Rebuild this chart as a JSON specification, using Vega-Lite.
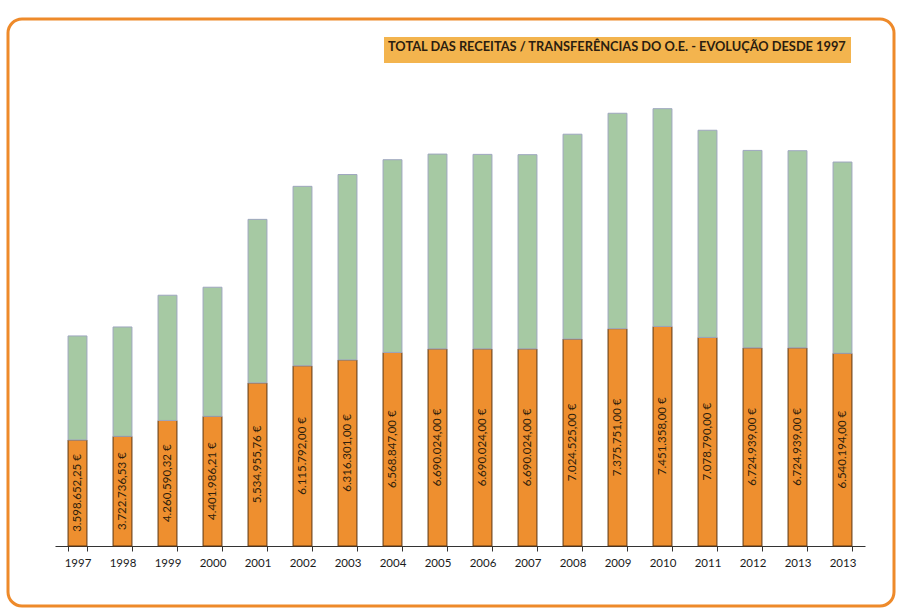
{
  "$schema": "https://vega.github.io/schema/vega-lite/v6.json",
  "width": 886,
  "height": 587,
  "autosize": {"type": "none"},
  "padding": {"left": 8, "top": 19, "right": 7, "bottom": 4},
  "background": "white",
  "config": {
    "view": {"stroke": "#EE8A2A", "strokeWidth": 3, "cornerRadius": 14, "fill": "white"},
    "locale": {"number": {"decimal": ",", "thousands": ".", "grouping": [3], "currency": ["", " €"]}}
  },
  "data": {
    "values": [
      {"id": "1997", "serie": "OE", "valor": 3598652.25},
      {"id": "1997", "serie": "Outros", "valor": 3530000},
      {"id": "1998", "serie": "OE", "valor": 3722736.53},
      {"id": "1998", "serie": "Outros", "valor": 3710000},
      {"id": "1999", "serie": "OE", "valor": 4260590.32},
      {"id": "1999", "serie": "Outros", "valor": 4250000},
      {"id": "2000", "serie": "OE", "valor": 4401986.21},
      {"id": "2000", "serie": "Outros", "valor": 4380000},
      {"id": "2001", "serie": "OE", "valor": 5534955.76},
      {"id": "2001", "serie": "Outros", "valor": 5550000},
      {"id": "2002", "serie": "OE", "valor": 6115792.00},
      {"id": "2002", "serie": "Outros", "valor": 6090000},
      {"id": "2003", "serie": "OE", "valor": 6316301.00},
      {"id": "2003", "serie": "Outros", "valor": 6290000},
      {"id": "2004", "serie": "OE", "valor": 6568847.00},
      {"id": "2004", "serie": "Outros", "valor": 6540000},
      {"id": "2005", "serie": "OE", "valor": 6690024.00},
      {"id": "2005", "serie": "Outros", "valor": 6610000},
      {"id": "2006", "serie": "OE", "valor": 6690024.00},
      {"id": "2006", "serie": "Outros", "valor": 6600000},
      {"id": "2007", "serie": "OE", "valor": 6690024.00},
      {"id": "2007", "serie": "Outros", "valor": 6590000},
      {"id": "2008", "serie": "OE", "valor": 7024525.00},
      {"id": "2008", "serie": "Outros", "valor": 6950000},
      {"id": "2009", "serie": "OE", "valor": 7375751.00},
      {"id": "2009", "serie": "Outros", "valor": 7310000},
      {"id": "2010", "serie": "OE", "valor": 7451358.00},
      {"id": "2010", "serie": "Outros", "valor": 7390000},
      {"id": "2011", "serie": "OE", "valor": 7078790.00},
      {"id": "2011", "serie": "Outros", "valor": 7030000},
      {"id": "2012", "serie": "OE", "valor": 6724939.00},
      {"id": "2012", "serie": "Outros", "valor": 6700000},
      {"id": "2013a", "serie": "OE", "valor": 6724939.00},
      {"id": "2013a", "serie": "Outros", "valor": 6690000},
      {"id": "2013b", "serie": "OE", "valor": 6540194.00},
      {"id": "2013b", "serie": "Outros", "valor": 6490000}
    ]
  },
  "layer": [
    {
      "mark": {"type": "bar", "strokeWidth": 1},
      "encoding": {
        "x": {
          "field": "id", "type": "nominal", "sort": null,
          "scale": {"range": [47, 857], "paddingInner": 0.58, "paddingOuter": 0.29},
          "axis": {
            "title": null, "labelExpr": "slice(datum.label, 0, 4)", "labelAngle": 0,
            "labelFont": "Lato", "labelFontSize": 11.5, "labelColor": "#1a1a1a",
            "domainColor": "#333333", "tickColor": "#333333", "tickSize": 5,
            "tickBand": "extent", "offset": -60, "labelPadding": 6, "grid": false
          }
        },
        "y": {
          "field": "valor", "type": "quantitative", "stack": "zero",
          "scale": {"domain": [0, 15000000], "range": [527, 85], "nice": false},
          "axis": null
        },
        "order": {"field": "serie", "sort": "ascending"},
        "color": {
          "field": "serie", "type": "nominal",
          "scale": {"domain": ["OE", "Outros"], "range": ["#EE8F2F", "#A6C9A3"]},
          "legend": {
            "title": "TOTAL DAS RECEITAS / TRANSFERÊNCIAS DO O.E. - EVOLUÇÃO DESDE 1997",
            "orient": "none", "legendX": 376, "legendY": 18,
            "fillColor": "#F3B44E", "padding": 4,
            "titleFont": "Lato", "titleFontWeight": "bold", "titleFontSize": 12.8,
            "titleColor": "#2b1d10", "titlePadding": 0, "titleLimit": 700,
            "values": ["OE"], "symbolOpacity": 0, "symbolSize": 0, "symbolStrokeWidth": 0,
            "labelFontSize": 0, "labelExpr": "''", "rowPadding": 0
          }
        },
        "stroke": {
          "field": "serie", "type": "nominal",
          "scale": {"domain": ["OE", "Outros"], "range": ["#5c3512", "#9ea6bf"]},
          "legend": null
        }
      }
    },
    {
      "transform": [{"filter": "datum.serie == 'OE'"}],
      "mark": {"type": "text", "angle": 270, "font": "Lato", "fontSize": 11.5, "color": "#2e1e0c", "align": "center", "baseline": "middle"},
      "encoding": {
        "x": {"field": "id", "type": "nominal", "sort": null},
        "y": {
          "field": "valor", "type": "quantitative",
          "scale": {"domain": [0, 30000000], "range": [527, 85], "nice": false},
          "axis": null
        },
        "text": {"field": "valor", "type": "quantitative", "format": "$,.2f"}
      }
    }
  ],
  "resolve": {"scale": {"y": "independent"}}
}
